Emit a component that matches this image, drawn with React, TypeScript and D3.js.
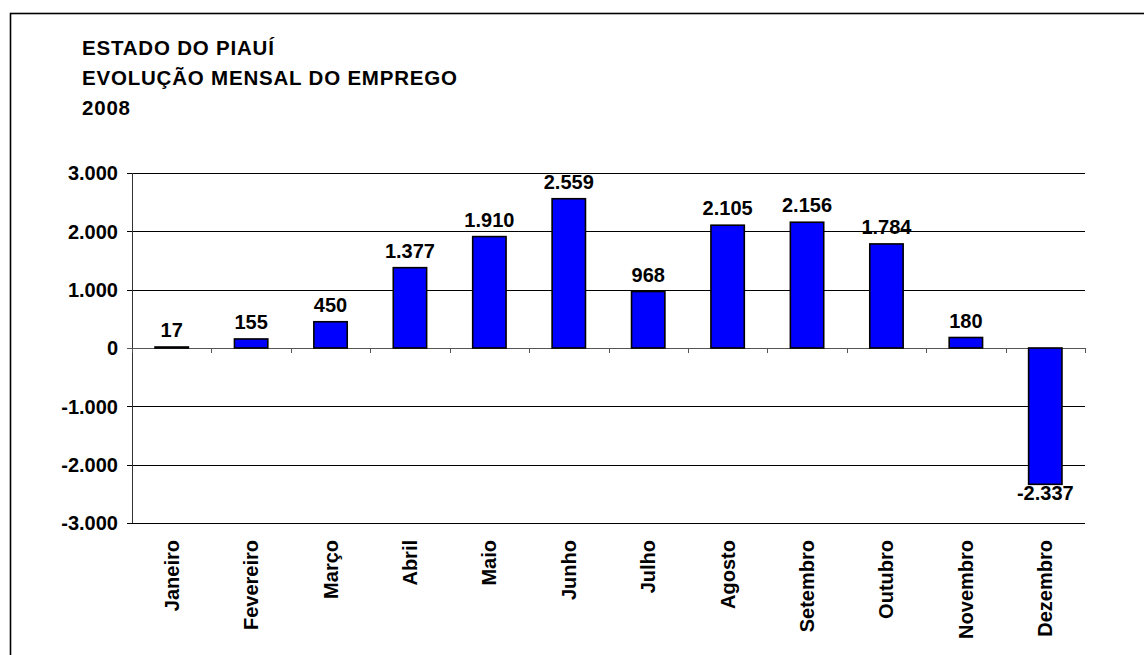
import React from 'react';
import * as d3 from 'd3';

const months = [
  'Janeiro', 'Fevereiro', 'Março', 'Abril', 'Maio', 'Junho',
  'Julho', 'Agosto', 'Setembro', 'Outubro', 'Novembro', 'Dezembro',
];
const saldo = [17, 155, 450, 1377, 1910, 2559, 968, 2105, 2156, 1784, 180, -2337];
const yTicks = [-3000, -2000, -1000, 0, 1000, 2000, 3000];
const titleLines = ['ESTADO DO PIAUÍ', 'EVOLUÇÃO MENSAL DO EMPREGO', '2008'];

const W = 1144;
const H = 655;
const plot = { left: 132, right: 1085, top: 173, bottom: 523 };
const font = 'Arial, "Liberation Sans", Helvetica, sans-serif';

// pt-BR style: 1.377, -2.337
const fmt = (v: number) => {
  const s = Math.abs(v).toString().replace(/\B(?=(\d{3})+(?!\d))/g, '.');
  return v < 0 ? '-' + s : s;
};

const App = () => {
  const x = d3.scaleBand().domain(months).range([plot.left, plot.right]).paddingInner(0.58).paddingOuter(0.29);
  const step = x.step();
  const y = d3.scaleLinear().domain([-3000, 3000]).range([plot.bottom, plot.top]);
  const y0 = y(0);

  return (
    <svg width={W} height={H} style={{ position: 'absolute', left: 0, top: 0, background: '#fff' }}>
      {/* outer frame */}
      <rect x={10.5} y={13.5} width={1300} height={800} fill='none' stroke='#000' strokeWidth={1.6} />

      {titleLines.map((t, i) => (
        <text key={t} x={82} y={55 + i * 30} fontFamily={font} fontWeight='bold' fontSize={20.5} letterSpacing={0.8} fill='#000'>
          {t}
        </text>
      ))}

      {/* gridlines + y ticks */}
      {yTicks.map((v) => (
        <g key={v}>
          <line x1={plot.left - 5} x2={plot.right} y1={Math.round(y(v)) + 0.5} y2={Math.round(y(v)) + 0.5} stroke={v === 0 ? '#555' : '#000'} strokeWidth={1} />
          <text x={118} y={y(v)} dy='0.36em' textAnchor='end' fontFamily={font} fontWeight='bold' fontSize={20} fill='#000'>
            {fmt(v)}
          </text>
        </g>
      ))}
      <line x1={plot.left + 0.5} x2={plot.left + 0.5} y1={plot.top} y2={plot.bottom} stroke='#333' strokeWidth={1} />

      {/* category ticks on zero line */}
      {d3.range(months.length + 1).map((i) => {
        const px = Math.round(plot.left + i * step) + 0.5;
        return <line key={i} x1={px} x2={px} y1={y0} y2={y0 + 5} stroke='#555' strokeWidth={1} />;
      })}

      {/* bars */}
      {saldo.map((v, i) => (
        <rect
          key={months[i]}
          x={x(months[i])}
          y={Math.min(y(v), y0)}
          width={x.bandwidth()}
          height={Math.abs(y(v) - y0)}
          fill='#0000FF'
          stroke='#000'
          strokeWidth={1.6}
        />
      ))}

      {/* value labels */}
      {saldo.map((v, i) => (
        <text
          key={'l' + i}
          x={(x(months[i]) as number) + x.bandwidth() / 2}
          y={v >= 0 ? y(v) - 10 : y(v) + 16}
          textAnchor='middle'
          fontFamily={font}
          fontWeight='bold'
          fontSize={20}
          fill='#000'
        >
          {fmt(v)}
        </text>
      ))}

      {/* month labels */}
      {months.map((m) => {
        const cx = (x(m) as number) + x.bandwidth() / 2;
        return (
          <text
            key={m}
            transform={`translate(${cx + 7},540) rotate(-90)`}
            textAnchor='end'
            fontFamily={font}
            fontWeight='bold'
            fontSize={20}
            fill='#000'
          >
            {m}
          </text>
        );
      })}
    </svg>
  );
};

export default App;
